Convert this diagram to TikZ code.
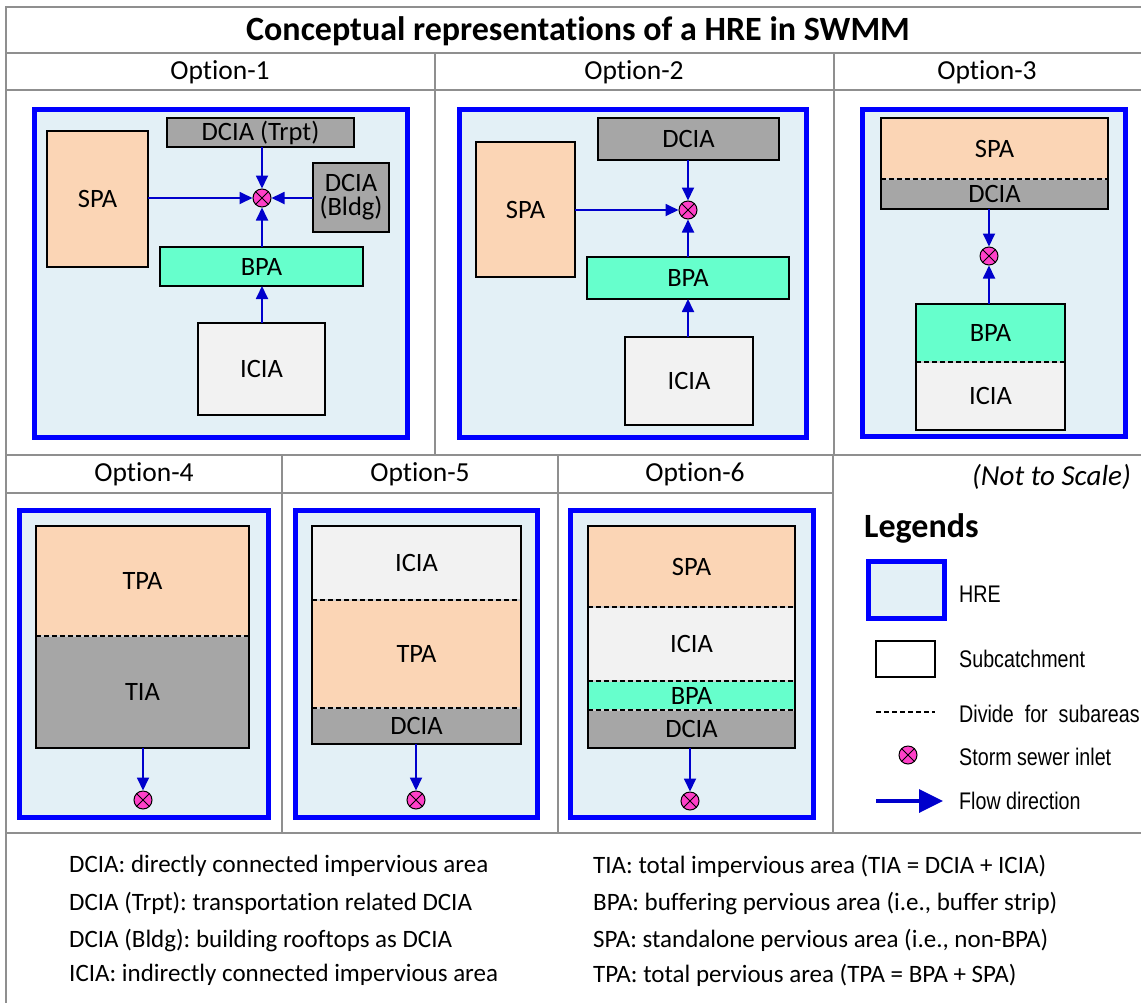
\documentclass[tikz,border=0pt]{standalone}
\usepackage{fontspec}
\setmainfont{Carlito}[Ligatures=NoCommon]
\newfontfamily\narrowfont[FakeStretch=0.82]{Liberation Sans}
\usetikzlibrary{arrows.meta}
\frenchspacing
\definecolor{hrefill}{HTML}{E3F0F6}
\definecolor{spacol}{HTML}{FBD5B5}
\definecolor{dciacol}{HTML}{A6A6A6}
\definecolor{bpacol}{HTML}{66FFCC}
\definecolor{iciacol}{HTML}{F2F2F2}
\definecolor{gridcol}{HTML}{8F8F8F}
\definecolor{flowcol}{HTML}{0000CC}
\definecolor{inletcol}{HTML}{FF40C8}
\definecolor{hreblue}{HTML}{0000FF}
\definecolor{gapcol}{HTML}{D0D0D0}
\newcommand\titlefont{\fontsize{34}{38}\selectfont\bfseries}
\newcommand\optfont{\fontsize{27.5}{31}\selectfont}
\newcommand\lblfont{\fontsize{26.5}{29}\selectfont}
\newcommand\notefont{\fontsize{25}{29}\selectfont}
\newcommand\legfont{\narrowfont\fontsize{24}{28}\selectfont}
\newcommand\rbox[7][]{\node[#1, minimum width={(#5)-(#3)}, minimum height={(#6)-(#4)}] (#2) at ({((#3)+(#5))/2},{((#4)+(#6))/2}) {#7};}
\newcommand\inletat[2]{\node[inlet] (#1) at (#2) {};
  \draw[line width=1pt] (#1.north east)--(#1.south west) (#1.north west)--(#1.south east);}
\newcommand\divline[1]{\draw[gapcol, line width=1.3pt] (#1.south west) -- (#1.south east);
  \draw[divide] (#1.south west) -- (#1.south east);}
\tikzset{
  gridline/.style={draw=gridcol, line width=2pt},
  hre/.style={draw=hreblue, line width=5pt, fill=hrefill, inner sep=0pt, outer sep=0pt},
  subbox/.style={draw=black, line width=1.5pt, inner sep=0pt, outer sep=0pt, font=\lblfont, align=center},
  subfill/.style={inner sep=0pt, outer sep=0pt, font=\lblfont, align=center},
  outline/.style={draw=black, line width=1.5pt},
  divide/.style={draw=black, dash pattern=on 5pt off 3pt, line width=1.3pt},
  flow/.style={draw=flowcol, line width=1.8pt, -{Triangle[length=13pt,width=12pt]}},
  inlet/.style={circle, draw=black, line width=1pt, fill=inletcol, minimum size=18pt, inner sep=0pt},
  hdr/.style={font=\optfont},
  note/.style={font=\notefont, anchor=west, inner sep=0pt},
  leglbl/.style={font=\legfont, anchor=west, inner sep=0pt},
}
\begin{document}
\begin{tikzpicture}[x=1pt, y=-1pt]
\useasboundingbox (0,0) rectangle (1141,1002);
% ---- table grid ----
\draw[gridline] (6,1004) -- (6,7) -- (1143,7);
\draw[gridline] (6,53) -- (1143,53);
\draw[gridline] (6,90) -- (1143,90);
\draw[gridline] (6,455) -- (1143,455);
\draw[gridline] (6,493) -- (833,493);
\draw[gridline] (6,833) -- (1143,833);
\draw[gridline] (435,53) -- (435,455);
\draw[gridline] (834,53) -- (834,455);
\draw[gridline] (282,455) -- (282,833);
\draw[gridline] (558,455) -- (558,833);
\draw[gridline] (833,455) -- (833,833);
% ---- headers ----
\node[font=\titlefont] (title) at (578,31) {Conceptual representations of a HRE in SWMM};
\node[hdr] (h1) at (220,72) {Option-1};
\node[hdr] (h2) at (634,72) {Option-2};
\node[hdr] (h3) at (987,72) {Option-3};
\node[hdr] (h4) at (144,474) {Option-4};
\node[hdr] (h5) at (420,474) {Option-5};
\node[hdr] (h6) at (695,474) {Option-6};
% ---- Option 1 ----
\rbox[hre]{hre1}{34.5}{109.5}{407.5}{437.5}{}
\rbox[subbox, fill=spacol]{spa1}{47}{131}{148}{267}{SPA}
\rbox[subbox, fill=dciacol]{dt1}{167}{118}{354}{147}{DCIA (Trpt)}
\rbox[subbox, fill=dciacol]{db1}{313}{163}{389}{232}{DCIA\\[-5pt](Bldg)}
\rbox[subbox, fill=bpacol]{bpa1}{160}{247}{363}{286}{BPA}
\rbox[subbox, fill=iciacol]{icia1}{198}{323}{325}{415}{ICIA}
\inletat{in1}{262,198}
\draw[flow] (dt1.south -| in1) -- (in1.north);
\draw[flow] (spa1.east |- in1) -- (in1.west);
\draw[flow] (db1.west |- in1) -- (in1.east);
\draw[flow] (bpa1.north -| in1) -- (in1.south);
\draw[flow] (icia1.north -| in1) -- (bpa1.south -| in1);
% ---- Option 2 ----
\rbox[hre]{hre2}{459.5}{109.5}{806.5}{437.5}{}
\rbox[subbox, fill=dciacol]{dc2}{598}{118}{779}{160}{DCIA}
\rbox[subbox, fill=spacol]{spa2}{476}{142}{575}{277}{SPA}
\rbox[subbox, fill=bpacol]{bpa2}{587}{257}{789}{299}{BPA}
\rbox[subbox, fill=iciacol]{icia2}{625}{337}{753}{425}{ICIA}
\inletat{in2}{688,210}
\draw[flow] (dc2.south -| in2) -- (in2.north);
\draw[flow] (spa2.east |- in2) -- (in2.west);
\draw[flow] (bpa2.north -| in2) -- (in2.south);
\draw[flow] (icia2.north -| in2) -- (bpa2.south -| in2);
% ---- Option 3 ----
\rbox[hre]{hre3}{862.5}{109.5}{1125.5}{436.5}{}
\rbox[subfill, fill=spacol]{spa3}{881}{118}{1108}{179}{SPA}
\rbox[subfill, fill=dciacol]{dc3}{881}{179}{1108}{209}{DCIA}
\divline{spa3}
\draw[outline] (spa3.north west) rectangle (dc3.south east);
\rbox[subfill, fill=bpacol]{bpa3}{916}{304}{1065}{362}{BPA}
\rbox[subfill, fill=iciacol]{icia3}{916}{362}{1065}{430}{ICIA}
\divline{bpa3}
\draw[outline] (bpa3.north west) rectangle (icia3.south east);
\inletat{in3}{989,256}
\draw[flow] (dc3.south -| in3) -- (in3.north);
\draw[flow] (bpa3.north -| in3) -- (in3.south);
% ---- Option 4 ----
\rbox[hre]{hre4}{19.5}{510.5}{268.5}{817.5}{}
\rbox[subfill, fill=spacol]{tpa4}{36}{526}{249}{636}{TPA}
\rbox[subfill, fill=dciacol]{tia4}{36}{636}{249}{748}{TIA}
\divline{tpa4}
\draw[outline] (tpa4.north west) rectangle (tia4.south east);
\inletat{in4}{143,800}
\draw[flow] (tia4.south -| in4) -- (in4.north);
% ---- Option 5 ----
\rbox[hre]{hre5}{295.5}{510.5}{537.5}{817.5}{}
\rbox[subfill, fill=iciacol]{icia5}{312}{526}{521}{600}{ICIA}
\rbox[subfill, fill=spacol]{tpa5}{312}{600}{521}{708}{TPA}
\rbox[subfill, fill=dciacol]{dc5}{312}{708}{521}{744}{DCIA}
\divline{icia5}
\divline{tpa5}
\draw[outline] (icia5.north west) rectangle (dc5.south east);
\inletat{in5}{416,800}
\draw[flow] (dc5.south -| in5) -- (in5.north);
% ---- Option 6 ----
\rbox[hre]{hre6}{570.5}{510.5}{813.5}{817.5}{}
\rbox[subfill, fill=spacol]{spa6}{588}{526}{795}{607}{SPA}
\rbox[subfill, fill=iciacol]{icia6}{588}{607}{795}{681}{ICIA}
\rbox[subfill, fill=bpacol]{bpa6}{588}{681}{795}{710}{BPA}
\rbox[subfill, fill=dciacol]{dc6}{588}{710}{795}{748}{DCIA}
\divline{spa6}
\divline{icia6}
\divline{bpa6}
\draw[outline] (spa6.north west) rectangle (dc6.south east);
\inletat{in6}{690,801}
\draw[flow] (dc6.south -| in6) -- (in6.north);
% ---- Legend ----
\node[font=\fontsize{29}{33}\selectfont\itshape, anchor=east, inner sep=0pt] (nts) at (1131,477) {(Not to Scale)};
\node[font=\fontsize{34}{38}\selectfont\bfseries, anchor=west, inner sep=0pt] (legt) at (864,528) {Legends};
\rbox[hre]{lhre}{868.5}{561.5}{944.5}{618.5}{}
\node[leglbl] (lhret) at (959,594) {HRE};
\rbox[subbox, fill=white]{lsub}{876}{641}{935}{677}{}
\node[leglbl] (lsubt) at (959,659) {Subcatchment};
\coordinate (ld1) at (876,712);
\coordinate (ld2) at (935,712);
\draw[divide] (ld1) -- (ld2);
\node[leglbl] (ldt) at (959,714) {Divide \ for \ subareas};
\inletat{lin}{908,755}
\node[leglbl] (lint) at (959,757) {Storm sewer inlet};
\coordinate (la1) at (876,801);
\coordinate (la2) at (943,801);
\draw[draw=flowcol, line width=3.5pt, -{Triangle[length=24pt,width=23pt]}] (la1) -- (la2);
\node[leglbl] (lat) at (959,801) {Flow direction};
% ---- Footnotes ----
\node[note] (n1) at (69,866) {DCIA: directly connected impervious area};
\node[note] (n2) at (69,903) {DCIA (Trpt): transportation related DCIA};
\node[note] (n3) at (69,940) {DCIA (Bldg): building rooftops as DCIA};
\node[note] (n4) at (69,975) {ICIA: indirectly connected impervious area};
\node[note] (n5) at (593,866) {TIA: total impervious area (TIA = DCIA + ICIA)};
\node[note] (n6) at (593,903) {BPA: buffering pervious area (i.e., buffer strip)};
\node[note] (n7) at (593,940) {SPA: standalone pervious area (i.e., non-BPA)};
\node[note] (n8) at (593,975) {TPA: total pervious area (TPA = BPA + SPA)};
\end{tikzpicture}
\end{document}
